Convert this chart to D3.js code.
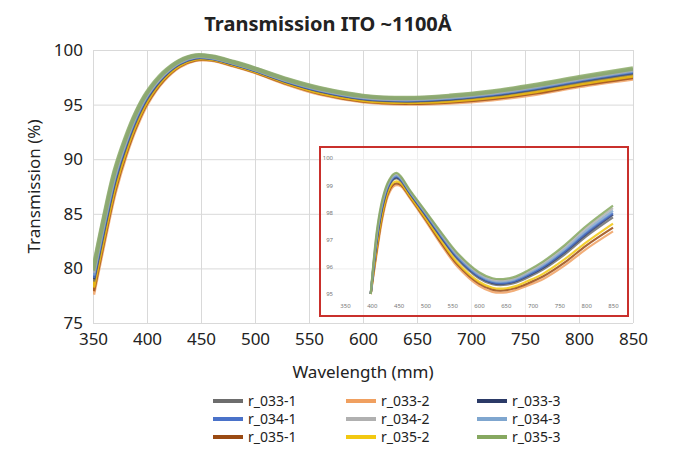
<!DOCTYPE html>
<html>
<head>
<meta charset="utf-8">
<script src="https://cdn.jsdelivr.net/npm/d3@7"></script>
<style>
  body { margin: 0; background: #fff; }
  text { font-family: "Noto Sans", "Open Sans", sans-serif; }
</style>
</head>
<body>
<div id="chart"></div>
<script>
// Data: main chart
var wavelengths = [350, 360, 370, 380, 390, 400, 415, 430, 445, 460, 480, 500, 530, 560, 600, 640, 680, 720, 760, 800, 850];
var seriesNames = ["r_033-1", "r_033-2", "r_033-3", "r_034-1", "r_034-2", "r_034-3", "r_035-1", "r_035-2", "r_035-3"];
var seriesColors = ["#6d6d6d", "#f0a060", "#2b3a67", "#4a72c9", "#b0b0b0", "#7fa6cf", "#9a4a12", "#f2c811", "#86a860"];

var r033_1 = [78.81, 83.61, 88.0, 91.18, 93.72, 95.65, 97.59, 98.78, 99.32, 99.27, 98.77, 98.17, 97.12, 96.28, 95.58, 95.38, 95.53, 95.89, 96.44, 97.14, 97.9];
var r033_2 = [77.6, 82.4, 86.9, 90.3, 93.0, 95.1, 97.2, 98.5, 99.1, 99.1, 98.6, 98.0, 96.9, 96.0, 95.3, 95.1, 95.2, 95.5, 96.0, 96.7, 97.4];
var r033_3 = [79.03, 83.83, 88.2, 91.34, 93.85, 95.75, 97.66, 98.83, 99.36, 99.3, 98.8, 98.2, 97.16, 96.33, 95.63, 95.43, 95.59, 95.96, 96.52, 97.22, 97.99];
var r034_1 = [79.14, 83.94, 88.3, 91.42, 93.91, 95.8, 97.69, 98.85, 99.38, 99.31, 98.81, 98.21, 97.18, 96.35, 95.65, 95.45, 95.62, 95.99, 96.56, 97.26, 98.03];
var r034_2 = [79.6, 84.4, 88.7, 91.7, 94.2, 96.0, 97.8, 98.95, 99.46, 99.37, 98.87, 98.27, 97.26, 96.45, 95.75, 95.55, 95.74, 96.13, 96.72, 97.42, 98.21];
var r034_3 = [79.36, 84.16, 88.5, 91.58, 94.04, 95.9, 97.76, 98.9, 99.42, 99.34, 98.84, 98.24, 97.22, 96.4, 95.7, 95.5, 95.68, 96.06, 96.64, 97.34, 98.12];
var r035_1 = [77.93, 82.73, 87.2, 90.54, 93.2, 95.25, 97.31, 98.58, 99.16, 99.15, 98.65, 98.05, 96.96, 96.08, 95.38, 95.18, 95.29, 95.61, 96.12, 96.82, 97.54];
var r035_2 = [78.26, 83.06, 87.5, 90.78, 93.39, 95.4, 97.41, 98.65, 99.22, 99.19, 98.69, 98.09, 97.02, 96.15, 95.45, 95.25, 95.38, 95.71, 96.24, 96.94, 97.67];
var r035_3 = [79.8, 84.6, 88.9, 91.9, 94.3, 96.1, 97.9, 99.0, 99.5, 99.4, 98.9, 98.3, 97.3, 96.5, 95.8, 95.6, 95.8, 96.2, 96.8, 97.5, 98.3];

// Data: inset (zoomed 95-100 %)
var insetWavelengths = [398, 410, 420, 430, 440, 447, 455, 470, 500, 530, 560, 600, 625, 645, 665, 690, 720, 760, 800, 850];
var in033_1 = [95.0, 97.04, 98.19, 98.88, 99.2, 99.25, 99.14, 98.72, 97.89, 97.05, 96.28, 95.58, 95.36, 95.33, 95.4, 95.6, 95.91, 96.46, 97.12, 97.82];
var in033_2 = [95.0, 96.6, 97.8, 98.6, 98.95, 99.0, 98.95, 98.55, 97.7, 96.8, 96.0, 95.3, 95.08, 95.05, 95.12, 95.3, 95.55, 96.05, 96.65, 97.3];
var in033_3 = [95.0, 97.12, 98.26, 98.93, 99.24, 99.29, 99.18, 98.75, 97.93, 97.09, 96.33, 95.63, 95.41, 95.38, 95.45, 95.66, 95.97, 96.54, 97.2, 97.92];
var in034_1 = [95.0, 97.16, 98.29, 98.95, 99.27, 99.32, 99.2, 98.76, 97.95, 97.12, 96.35, 95.65, 95.43, 95.4, 95.47, 95.69, 96.01, 96.58, 97.25, 97.97];
var in034_2 = [95.0, 97.32, 98.43, 99.05, 99.36, 99.41, 99.27, 98.82, 98.02, 97.21, 96.45, 95.75, 95.53, 95.5, 95.57, 95.8, 96.14, 96.73, 97.42, 98.16];
var in034_3 = [95.0, 97.24, 98.36, 99.0, 99.31, 99.36, 99.23, 98.79, 97.98, 97.16, 96.4, 95.7, 95.48, 95.45, 95.52, 95.74, 96.07, 96.65, 97.33, 98.06];
var in035_1 = [95.0, 96.72, 97.91, 98.68, 99.02, 99.07, 99.0, 98.6, 97.75, 96.87, 96.08, 95.38, 95.16, 95.13, 95.2, 95.38, 95.65, 96.16, 96.78, 97.44];
var in035_2 = [95.0, 96.84, 98.01, 98.75, 99.09, 99.14, 99.06, 98.64, 97.8, 96.94, 96.15, 95.45, 95.23, 95.2, 95.27, 95.47, 95.75, 96.28, 96.9, 97.59];
var in035_3 = [95.0, 97.4, 98.5, 99.1, 99.4, 99.45, 99.3, 98.85, 98.05, 97.25, 96.5, 95.8, 95.58, 95.55, 95.62, 95.85, 96.2, 96.8, 97.5, 98.25];

var xTicks = [350, 400, 450, 500, 550, 600, 650, 700, 750, 800, 850];
var yTicks = [75, 80, 85, 90, 95, 100];
var insetYTicks = [95, 96, 97, 98, 99, 100];

var mainValues = [r033_1, r033_2, r033_3, r034_1, r034_2, r034_3, r035_1, r035_2, r035_3];
var insetValues = [in033_1, in033_2, in033_3, in034_1, in034_2, in034_3, in035_1, in035_2, in035_3];
// drawing order: lowest curves first, green on top
var drawOrder = [1, 6, 7, 0, 2, 3, 5, 4, 8];

var W = 677, H = 458;
var margin = {top: 50, right: 44, bottom: 135, left: 93};
var width = W - margin.left - margin.right,
    height = H - margin.top - margin.bottom;

var svg = d3.select("#chart").append("svg")
    .attr("width", W).attr("height", H);

var g = svg.append("g")
    .attr("transform", "translate(" + margin.left + "," + margin.top + ")");

var x = d3.scaleLinear().domain([350, 850]).range([0, width]);
var y = d3.scaleLinear().domain([75, 100]).range([height, 0]);

// Gridlines + tick labels
var xAxis = g.append("g")
    .attr("transform", "translate(0," + height + ")")
    .call(d3.axisBottom(x).tickValues(xTicks).tickSize(-height).tickPadding(10));
var yAxis = g.append("g")
    .call(d3.axisLeft(y).tickValues(yTicks).tickSize(-width).tickPadding(10));

[xAxis, yAxis].forEach(function (ax) {
    ax.select(".domain").remove();
    ax.selectAll("line").attr("stroke", "#d9d9d9");
    ax.selectAll("text")
        .style("font-family", "'Noto Sans', sans-serif")
        .style("font-size", "17px")
        .attr("fill", "#222");
});

g.append("clipPath").attr("id", "plotclip")
    .append("rect").attr("width", width).attr("height", height);

var line = d3.line()
    .x(function (d) { return x(d[0]); })
    .y(function (d) { return y(d[1]); })
    .curve(d3.curveCatmullRom.alpha(0.5));

var lines = g.append("g").attr("clip-path", "url(#plotclip)");
drawOrder.forEach(function (i) {
    lines.append("path")
        .datum(wavelengths.map(function (w, k) { return [w, mainValues[i][k]]; }))
        .attr("fill", "none")
        .attr("stroke", seriesColors[i])
        .attr("stroke-width", 4.5)
        .attr("stroke-opacity", 0.8)
        .attr("d", line);
});

// Inset
var inset = {x: 320, y: 147, w: 308, h: 169};
var xi = d3.scaleLinear().domain([350, 850]).range([345, 613]);
var yi = d3.scaleLinear().domain([95, 100]).range([294, 158]);

svg.append("rect")
    .attr("x", inset.x).attr("y", inset.y)
    .attr("width", inset.w).attr("height", inset.h)
    .attr("fill", "#fff").attr("fill-opacity", 0.55);

var insetLine = d3.line()
    .x(function (d) { return xi(d[0]); })
    .y(function (d) { return yi(d[1]); })
    .curve(d3.curveCatmullRom.alpha(0.5));

var insetG = svg.append("g");
drawOrder.forEach(function (i) {
    insetG.append("path")
        .datum(insetWavelengths.map(function (w, k) { return [w, insetValues[i][k]]; }))
        .attr("fill", "none")
        .attr("stroke", seriesColors[i])
        .attr("stroke-width", 2.2)
        .attr("stroke-opacity", 0.85)
        .attr("d", insetLine);
});

var insetX = svg.append("g")
    .attr("transform", "translate(0,306)")
    .call(d3.axisBottom(xi).tickValues(xTicks).tickSize(0).tickPadding(0));
var insetY = svg.append("g")
    .attr("transform", "translate(336,0)")
    .call(d3.axisLeft(yi).tickValues(insetYTicks).tickFormat(d3.format("d")).tickSize(0).tickPadding(3));
[insetX, insetY].forEach(function (ax) {
    ax.select(".domain").remove();
    ax.selectAll("text")
        .style("font-family", "'Noto Sans', sans-serif")
        .style("font-size", "6px")
        .attr("fill", "#777");
});
insetX.selectAll("text").attr("dy", "0.32em");

svg.append("rect")
    .attr("x", inset.x).attr("y", inset.y)
    .attr("width", inset.w).attr("height", inset.h)
    .attr("fill", "none").attr("stroke", "#c9302c").attr("stroke-width", 2);

// Titles
svg.append("text")
    .attr("x", 328).attr("y", 31)
    .attr("text-anchor", "middle")
    .style("font-size", "20px").style("font-weight", "bold")
    .attr("fill", "#222")
    .text("Transmission ITO ~1100Å");

svg.append("text")
    .attr("x", margin.left + width / 2).attr("y", 378)
    .attr("text-anchor", "middle")
    .style("font-size", "17px")
    .attr("fill", "#222")
    .text("Wavelength (mm)");

svg.append("text")
    .attr("transform", "translate(40," + (margin.top + height / 2) + ") rotate(-90)")
    .attr("text-anchor", "middle")
    .style("font-size", "17px")
    .attr("fill", "#222")
    .text("Transmission (%)");

// Legend, 3 columns
var legendCols = [213, 346, 477];
var legendRows = [401, 419, 437];
seriesNames.forEach(function (name, i) {
    var lx = legendCols[i % 3], ly = legendRows[Math.floor(i / 3)];
    svg.append("line")
        .attr("x1", lx).attr("x2", lx + 30)
        .attr("y1", ly).attr("y2", ly)
        .attr("stroke", seriesColors[i]).attr("stroke-width", 4);
    svg.append("text")
        .attr("x", lx + 35).attr("y", ly)
        .attr("dy", "0.35em")
        .style("font-size", "14px")
        .attr("fill", "#222")
        .text(name);
});
</script>
</body>
</html>
